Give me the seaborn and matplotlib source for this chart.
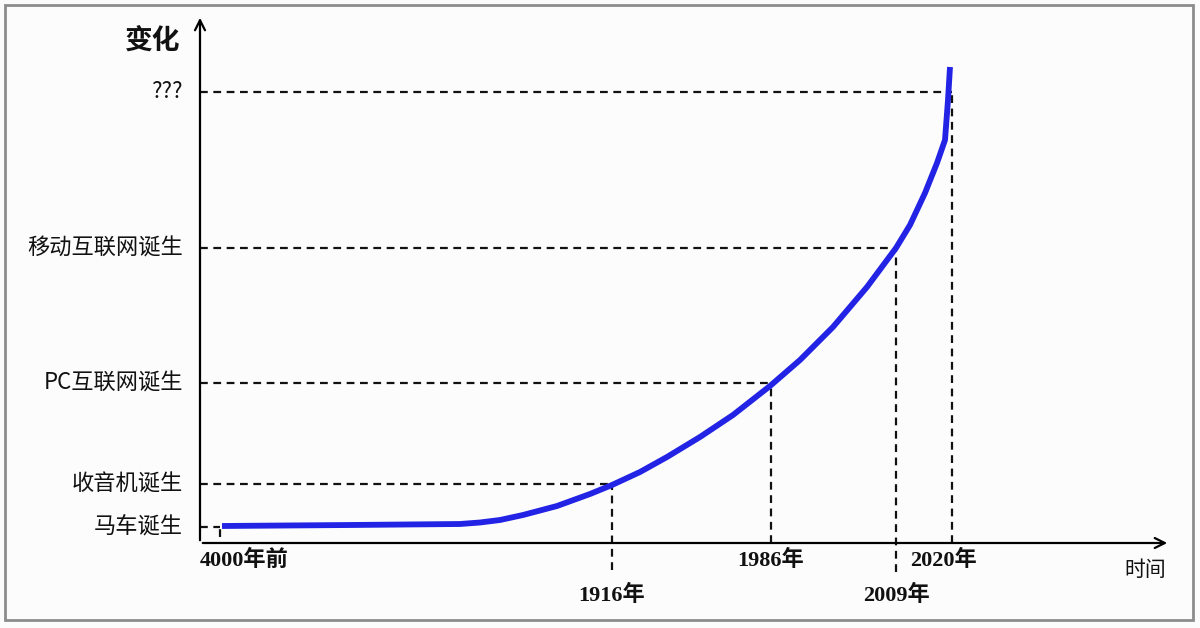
import matplotlib
matplotlib.use("Agg")
import matplotlib.pyplot as plt
import seaborn as sns
import pandas as pd
from matplotlib.patches import Rectangle

# 曲线上的读数点 (横轴: 时间位置, 纵轴: 变化程度)
curve_x = [22, 150, 260, 280, 300, 323, 357, 390, 412, 440, 467, 500, 533, 570, 600,
           633, 667, 696, 710, 725, 737, 745, 748, 750]
curve_y = [17, 18, 19, 20.5, 23, 28, 37, 49, 58, 71, 86, 106, 128, 157, 183,
           216, 256, 295, 318, 350, 380, 403, 443, 476]

# 里程碑事件
event_names = ["马车诞生", "收音机诞生", "PC互联网诞生", "移动互联网诞生", "???"]
event_x = [20, 412, 571, 696, 752]
event_y = [16, 59, 160, 295, 451]
event_vline_bottom = [6, -27, 0, -29, 0]

# 横轴标签
year_labels = ["4000年前", "1916年", "1986年", "2009年", "2020年"]
year_label_x = [0, 412, 571, 697, 710]
year_label_y = [-17, -52, -17, -52, -17]
year_label_ha = ["left", "center", "center", "center", "left"]

sns.set_theme(style="white")
plt.rcParams["font.family"] = ["Noto Sans CJK SC", "DejaVu Sans"]

fig = plt.figure(figsize=(12, 6.28), dpi=100)
fig.patch.set_facecolor("#fcfcfc")
ax = fig.add_axes([200 / 1200, 85 / 628, 970 / 1200, 528 / 628])
ax.set_facecolor("none")
ax.set_xlim(0, 970)
ax.set_ylim(0, 528)
for s in ax.spines.values():
    s.set_visible(False)
ax.set_xticks([])
ax.set_yticks([])

# 虚线
dash = dict(color="#111111", lw=1.6, linestyles=(0, (3.5, 2.5)), clip_on=False)
ax.hlines(event_y, 0, event_x, **dash)
ax.vlines(event_x, event_vline_bottom, event_y, **dash)

# 曲线
df = pd.DataFrame({"x": curve_x, "y": curve_y})
sns.lineplot(data=df, x="x", y="y", ax=ax, color="#2323e6", lw=4.2,
             sort=False, solid_capstyle="butt", solid_joinstyle="round")
ax.set_xlabel("")
ax.set_ylabel("")

# 坐标轴箭头
arrow = dict(arrowstyle="->", color="black", lw=1.6, mutation_scale=18)
ax.annotate("", xy=(0, 528), xytext=(0, 0), arrowprops=arrow, annotation_clip=False)
ax.annotate("", xy=(970, 0), xytext=(0, 0), arrowprops=arrow, annotation_clip=False)

# 纵轴标签
for name, y in zip(event_names, event_y):
    ax.text(-17, y, name, ha="right", va="center", fontsize=16, color="#111111")
ax.text(-20, 501, "变化", ha="right", va="center", fontsize=20, fontweight="bold", color="#111111")

# 横轴标签
for lab, x, y, ha in zip(year_labels, year_label_x, year_label_y, year_label_ha):
    ax.text(x, y, lab, ha=ha, va="center", fontsize=16, fontweight="bold",
            family=["Liberation Serif", "Noto Sans CJK SC"], color="#111111")
ax.text(945, -27, "时间", ha="center", va="center", fontsize=15, color="#111111")

# 外框
fig.patches.append(Rectangle((5 / 1200, 8 / 628), 1188 / 1200, 615 / 628,
                             transform=fig.transFigure, fill=False,
                             edgecolor="#8c8c8c", lw=2))

fig.savefig("out.png", dpi=100)
